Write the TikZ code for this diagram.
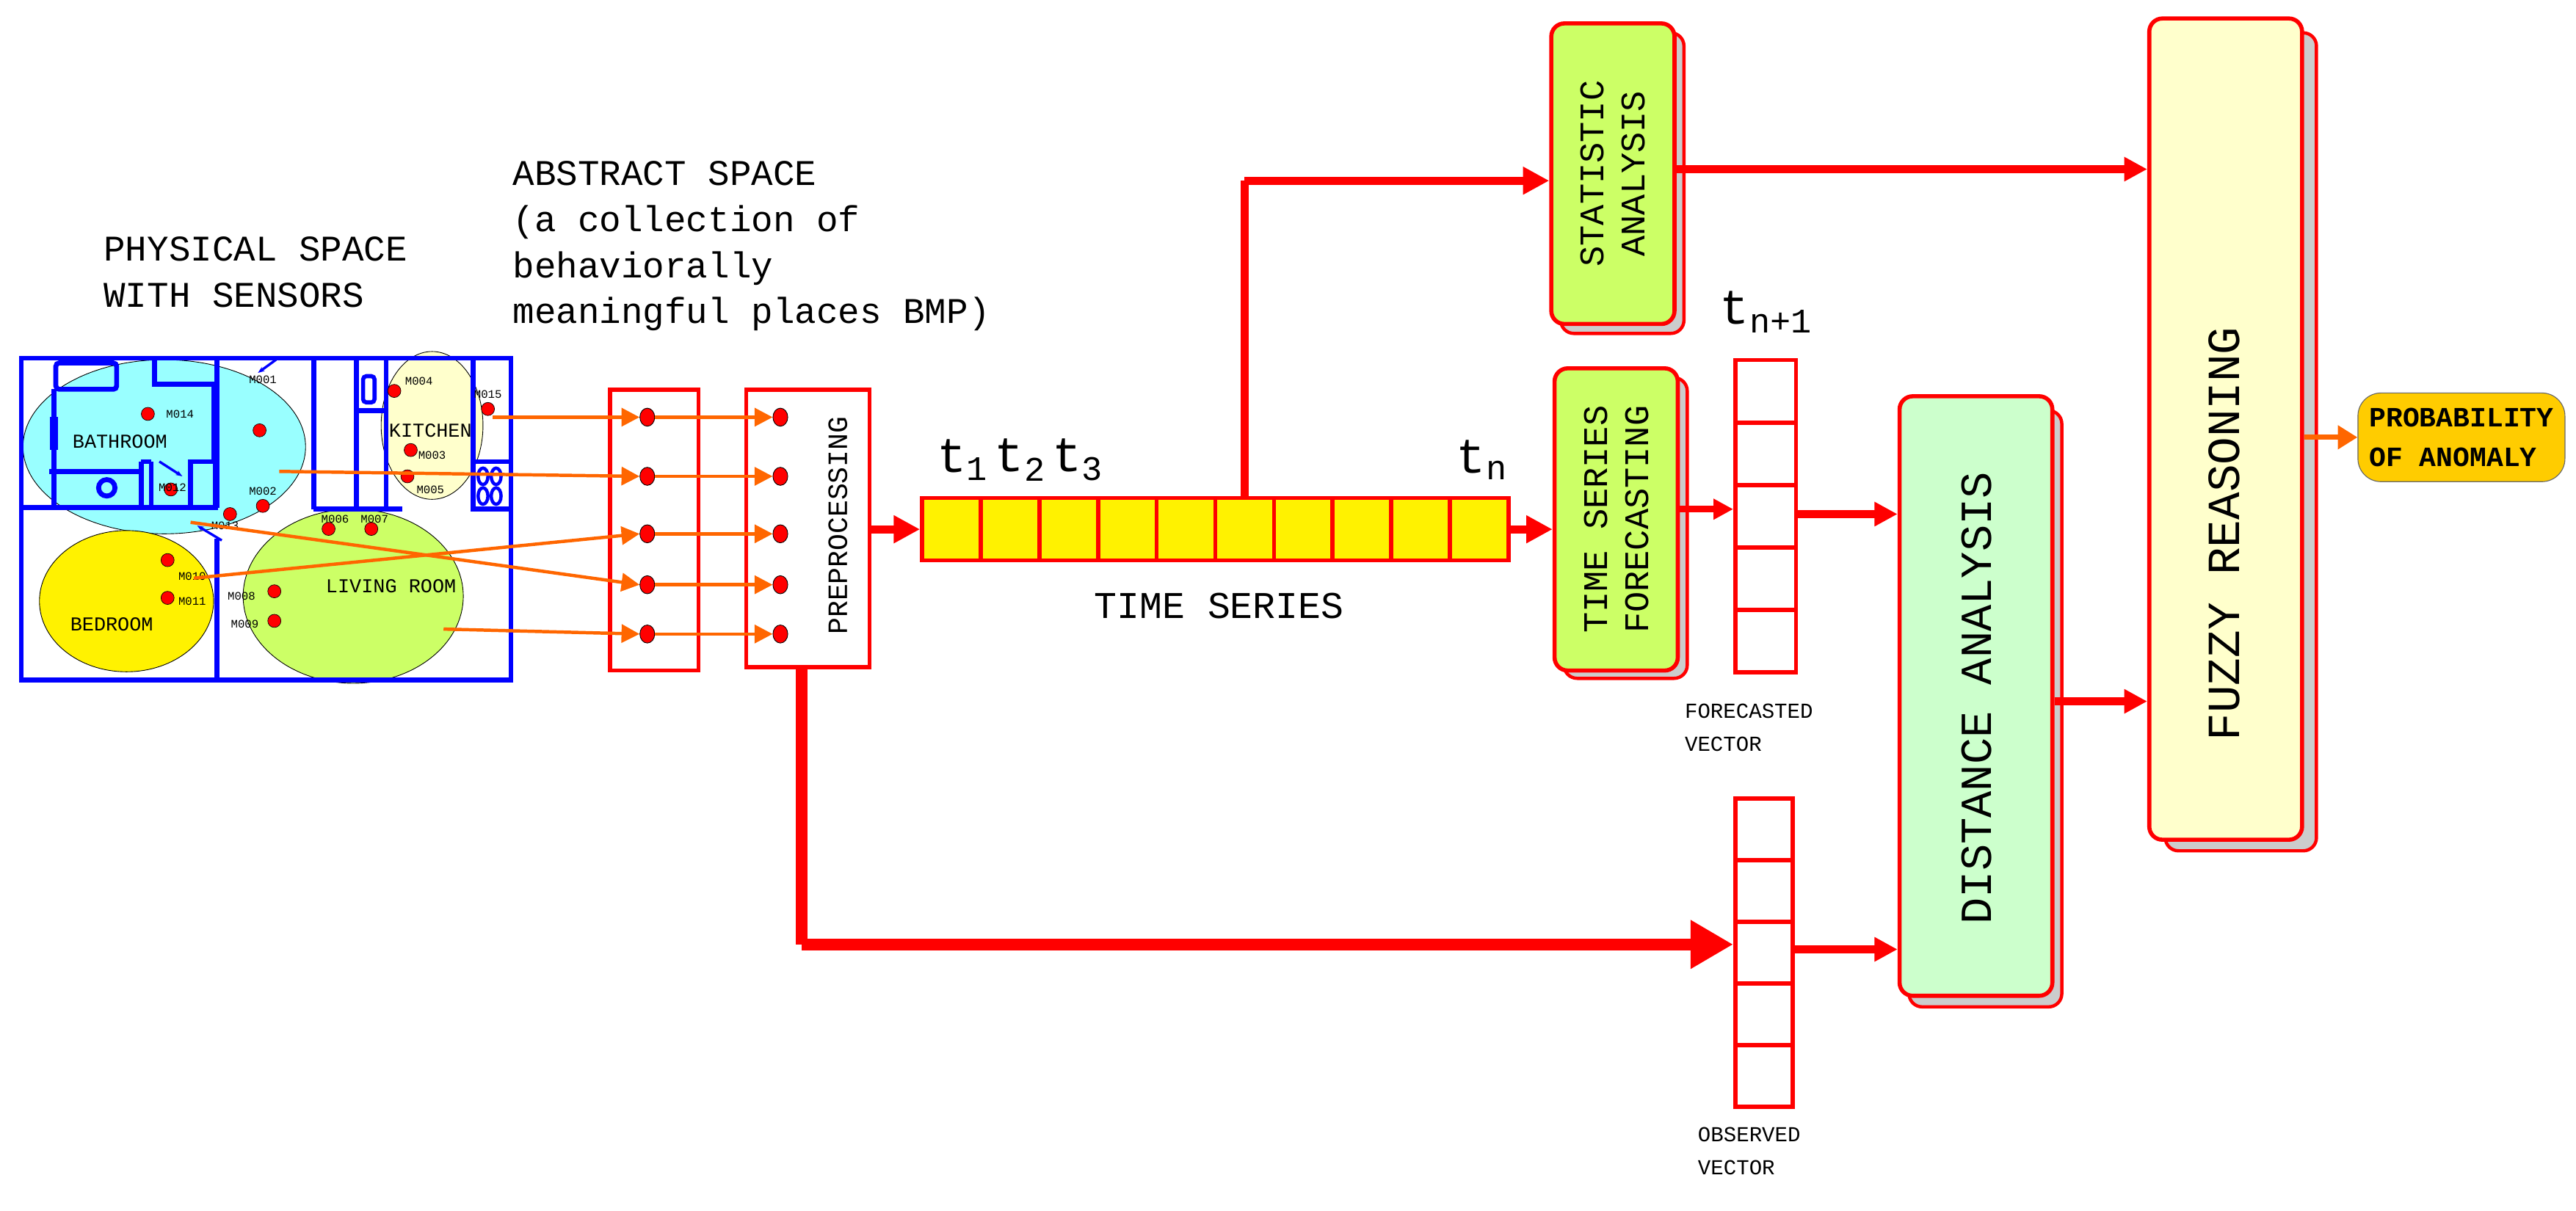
\documentclass[tikz,border=0pt]{standalone}
\usepackage{fontspec}
\setmonofont{Liberation Mono}
\usetikzlibrary{arrows.meta,positioning,shapes.geometric}
\definecolor{wall}{RGB}{0,0,255}
\definecolor{rd}{RGB}{255,0,0}
\definecolor{org}{RGB}{255,102,0}
\definecolor{lgreen}{RGB}{204,255,102}
\definecolor{mint}{RGB}{204,255,204}
\definecolor{cream}{RGB}{255,255,204}
\definecolor{cyanr}{RGB}{153,255,255}
\definecolor{gold}{RGB}{255,204,0}
\tikzset{
 w/.style={draw=wall,line width=3pt},
 dot/.style={draw=black,fill=rd,ellipse,minimum width=9pt,minimum height=11pt,inner sep=0pt,line width=.4pt},
 sdot/.style={circle,fill=rd,draw=black,line width=.3pt,minimum size=8pt,inner sep=0pt},
 sl/.style={font=\ttfamily\fontsize{7}{7}\selectfont,inner sep=0pt},
 rl/.style={font=\ttfamily\fontsize{12}{12}\selectfont,inner sep=0pt},
 big/.style={font=\ttfamily\fontsize{22}{28}\selectfont,align=left,inner sep=0pt},
 oa/.style={draw=org,line width=2pt,-{Triangle[length=11pt,width=11pt]}},
 ra/.style={draw=rd,line width=5pt,-{Triangle[length=16pt,width=16pt]}},
 box/.style={draw=rd,line width=2.5pt,rounded corners=8pt},
 shadow/.style={draw=rd,line width=2pt,fill=black!20,rounded corners=8pt},
 cell/.style={draw=rd,line width=2.5pt}
}
\begin{document}
\begin{tikzpicture}[x=1pt,y=-1pt]
\useasboundingbox (0,0) rectangle (1568,737);
% titles
\node[big,anchor=north west] (phys) at (63,144) {PHYSICAL SPACE\\WITH SENSORS};
\node[big,anchor=north west] (abs) at (312,98) {ABSTRACT SPACE\\(a collection of\\behaviorally\\meaningful places BMP)};
% room ellipses
\fill[cyanr] (100,272) ellipse (86 and 53);
\draw[line width=.4pt] (100,272) ellipse (86 and 53);
\fill[cream] (263,259) ellipse (31 and 45);
\draw[line width=.4pt] (263,259) ellipse (31 and 45);
\fill[yellow] (77,366) ellipse (53 and 43);
\draw[line width=.4pt] (77,366) ellipse (53 and 43);
\fill[lgreen] (215,363) ellipse (67 and 53);
\draw[line width=.4pt] (215,363) ellipse (67 and 53);
% walls
\draw[w] (13,218) rectangle (311,414);
\draw[w] (132,218) -- (132,309) (132,328) -- (132,414);
\draw[w] (13,309) -- (132,309);
\draw[w,rounded corners=2pt] (34,221) rectangle (71,237);
\draw[w] (94,218) -- (94,234) -- (132,234);
\draw[w] (33,237) -- (33,309);
\draw[w,line width=5pt] (33,254) -- (33,274);
\draw[w] (30,287) -- (86,287);
\draw[w] (86,281) -- (86,309) (92,281) -- (92,309) (86,281)--(92,281);
\draw[w] (65,297) circle (5);
\draw[w] (116,281) rectangle (131,309);
\draw[w] (130,234) -- (130,281);
\draw[w] (191,218) -- (191,310) (217,218) -- (217,310) (235,218) -- (235,310);
\draw[w] (191,310) -- (245,310);
\draw[w] (217,250) -- (235,250);
\draw[w,rounded corners=2pt,line width=2.5pt] (221,229) rectangle (228,245);
\draw[w] (288,218) -- (288,310) -- (311,310) (288,281) -- (311,281);
\foreach \p in {(294,290),(302,290),(294,302),(302,302)} \draw[wall,line width=2pt] \p ellipse (3 and 5);
\draw[wall,line width=1.5pt,-{Stealth[length=4pt]}] (168,219) -- (157,227);
\draw[wall,line width=1.5pt,-{Stealth[length=4pt]}] (97,281) -- (111,290);
\draw[wall,line width=1.5pt,-{Stealth[length=4pt]}] (135,329) -- (120,320);
% room labels
\node[rl] (lbath) at (73,269) {BATHROOM};
\node[rl] (lkit) at (262,262) {KITCHEN};
\node[rl] (lbed) at (68,380) {BEDROOM};
\node[rl] (lliv) at (238,357) {LIVING ROOM};
% sensors
\foreach \n/\x/\y in {14/90/252,01/158/262,04/240/238,15/297/249,03/250/274,05/248/290,02/160/308,12/104/298,13/140/313,06/200/322,07/226/322,10/102/341,11/102/364,08/167/360,09/167/378}
  \node[sdot] (s\n) at (\x,\y) {};
\node[sl,anchor=west] at (101,252) {M014};
\node[sl] at (160,231) {M001};
\node[sl] at (255,232) {M004};
\node[sl] at (297,240) {M015};
\node[sl] at (263,277) {M003};
\node[sl] at (262,298) {M005};
\node[sl] at (160,299) {M002};
\node[sl] at (105,297) {M012};
\node[sl] at (137,320) {M013};
\node[sl] at (204,316) {M006};
\node[sl] at (228,316) {M007};
\node[sl] at (117,351) {M010};
\node[sl] at (117,366) {M011};
\node[sl] at (147,363) {M008};
\node[sl] at (149,380) {M009};
% abstract space and preprocessing
\node[draw=rd,line width=2.5pt,minimum width=54pt,minimum height=171pt,anchor=north west,inner sep=0pt] (absbox) at (370,236) {};
\node[draw=rd,line width=2.5pt,minimum width=75pt,minimum height=169pt,anchor=north west,inner sep=0pt] (pre) at (453,236) {};
\node[rotate=90,font=\ttfamily\fontsize{17}{17}\selectfont] at (510,320) {PREPROCESSING};
\foreach \i/\y in {1/254,2/290,3/325,4/356,5/386} {
  \node[dot] (a\i) at (394,\y) {};
  \node[dot] (p\i) at (475,\y) {};
  \draw[oa] (a\i) -- (p\i);
}
\coordinate (k1) at (300,254); \coordinate (b1) at (170,287);
\coordinate (b2) at (116,318); \coordinate (d1) at (118,352);
\coordinate (l1) at (270,383);
\draw[oa] (k1) -- (a1.west);
\draw[oa] (b1) -- (a2.west);
\draw[oa] (b2) -- (a4.west);
\draw[oa] (d1) -- (a3.west);
\draw[oa] (l1) -- (a5.west);
% time series
\foreach \i in {0,...,9}
  \node[cell,fill=yellow,minimum width=35.7pt,minimum height=38pt,anchor=north west,inner sep=0pt] (ts\i) at ({560+35.7*\i},302) {};
\node[font=\ttfamily\fontsize{30}{30}\selectfont] at (586,280) {t\textsubscript{1}};
\node[font=\ttfamily\fontsize{30}{30}\selectfont] at (621,280) {t\textsubscript{2}};
\node[font=\ttfamily\fontsize{30}{30}\selectfont] at (656,280) {t\textsubscript{3}};
\node[font=\ttfamily\fontsize{30}{30}\selectfont] at (902,280) {t\textsubscript{n}};
\node[font=\ttfamily\fontsize{23}{23}\selectfont] at (742,369) {TIME SERIES};
\draw[ra] (pre.east |- ts0.west) -- (ts0.west);
% statistic analysis box
\draw[shadow] (950,20) rectangle (1025,203);
\node[box,fill=lgreen,minimum width=75pt,minimum height=183pt,anchor=north west,inner sep=0pt] (stat) at (943,13) {};
\node[rotate=90,font=\ttfamily\fontsize{21}{25}\selectfont,align=center] at (stat.center) {STATISTIC\\ANALYSIS};
% forecasting box
\draw[shadow] (952,230) rectangle (1027,413);
\node[box,fill=lgreen,minimum width=75pt,minimum height=184pt,anchor=north west,inner sep=0pt] (fc) at (945,223) {};
\node[rotate=90,font=\ttfamily\fontsize{21}{25}\selectfont,align=center] at (fc.center) {TIME SERIES\\FORECASTING};
\coordinate (up) at (735,110);
\draw[draw=rd,line width=5pt] (ts5.north) -- (ts5.north |- up) -- ++(0,0);
\draw[ra] (ts5.north |- up) -- (stat.west |- up);
\draw[ra] (ts9.east) -- (fc.west |- ts9.east);
% forecast vector
\foreach \i in {0,...,4}
  \node[cell,minimum width=37pt,minimum height=38pt,anchor=north west,inner sep=0pt] (fv\i) at (1055,{218+38*\i}) {};
\node[font=\ttfamily\fontsize{30}{30}\selectfont] at (1075,190) {t\textsubscript{n+1}};
\node[font=\ttfamily\fontsize{13}{20}\selectfont,align=left,anchor=north west] at (1022,425) {FORECASTED\\VECTOR};
\draw[ra,line width=4pt,-{Triangle[length=12pt,width=12pt]}] (fc.east |- 0,310) -- (fv2.west |- 0,310);
% observed vector
\foreach \i in {0,...,4}
  \node[cell,minimum width=35pt,minimum height=37.5pt,anchor=north west,inner sep=0pt] (ov\i) at (1055,{485+37.5*\i}) {};
\node[font=\ttfamily\fontsize{13}{20}\selectfont,align=left,anchor=north west] at (1030,683) {OBSERVED\\VECTOR};
\coordinate (low) at (488,575);
\draw[draw=rd,line width=7pt] (pre.south -| low) -- (low);
\draw[ra,line width=7pt,-{Triangle[length=26pt,width=28pt]}] (low) -- (ov2.west |- low);
% distance analysis
\draw[shadow] (1162,250) rectangle (1255,613);
\node[box,fill=mint,minimum width=93pt,minimum height=365pt,anchor=north west,inner sep=0pt] (dist) at (1155,240) {};
\node[rotate=90,font=\ttfamily\fontsize{27}{27}\selectfont] at (1203,425) {DISTANCE ANALYSIS};
\draw[ra,-{Triangle[length=14pt,width=14pt]}] (fv2.east |- 0,313) -- (dist.west |- 0,313);
\draw[ra,-{Triangle[length=14pt,width=14pt]}] (ov2.east |- 0,578) -- (dist.west |- 0,578);
% fuzzy reasoning
\draw[shadow] (1318,20) rectangle (1410,518);
\node[box,fill=cream,minimum width=93pt,minimum height=500pt,anchor=north west,inner sep=0pt] (fz) at (1307,10) {};
\node[rotate=90,font=\ttfamily\fontsize{28}{28}\selectfont] at (1354,325) {FUZZY REASONING};
\draw[ra,-{Triangle[length=14pt,width=14pt]}] (stat.east |- 0,103) -- (fz.west |- 0,103);
\draw[ra,-{Triangle[length=14pt,width=14pt]}] (dist.east |- 0,427) -- (fz.west |- 0,427);
% probability
\node[draw=black!60,line width=.5pt,fill=gold,rounded corners=14pt,minimum width=126pt,minimum height=54pt,anchor=north west,inner sep=0pt,font=\ttfamily\bfseries\fontsize{17}{24}\selectfont,align=left] (prob) at (1435,239) {PROBABILITY\\OF ANOMALY};
\draw[oa,line width=3pt,-{Triangle[length=12pt,width=14pt]}] (fz.east |- prob.west) -- (prob.west);
\end{tikzpicture}
\end{document}
